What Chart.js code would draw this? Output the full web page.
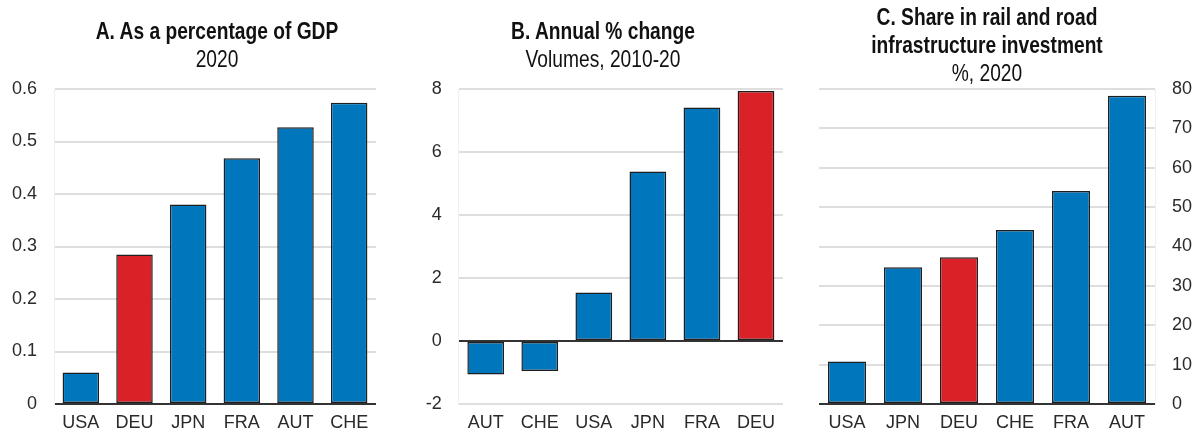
<!DOCTYPE html>
<html>
<head>
<meta charset="utf-8">
<script src="https://cdn.jsdelivr.net/npm/chart.js@4.4.1/dist/chart.umd.min.js"></script>
<style>
  html, body { margin: 0; padding: 0; background: #fff; }
  #wrap { position: relative; width: 1201px; height: 433px; overflow: hidden; }
  .panel { position: absolute; top: 0; }
  /* condensed headings: regular sans squeezed horizontally */
  .ttl {
    position: absolute; text-align: center; white-space: nowrap; color: #111;
    font-family: 'Liberation Sans', Arial, sans-serif;
    font-size: 24px; line-height: 28px;
    transform: scaleX(0.8); transform-origin: 50% 0;
  }
  .ttl b { font-weight: bold; }
</style>
</head>
<body>
<div id="wrap">
  <div class="panel" style="left:0;width:392px;height:433px"><canvas id="chart-a" width="392" height="433"></canvas></div>
  <div class="panel" style="left:400px;width:400px;height:433px"><canvas id="chart-b" width="400" height="433"></canvas></div>
  <div class="panel" style="left:800px;width:401px;height:433px"><canvas id="chart-c" width="401" height="433"></canvas></div>

  <div class="ttl" style="left:17px;width:400px;top:17px"><b>A. As a percentage of GDP</b><br>2020</div>
  <div class="ttl" style="left:403px;width:400px;top:17px"><b>B. Annual % change</b><br>Volumes, 2010-20</div>
  <div class="ttl" style="left:787px;width:400px;top:3px"><b>C. Share in rail and road<br>infrastructure investment</b><br>%, 2020</div>
</div>

<script>
/* ── Data ─────────────────────────────────────────────────────────────── */
const gdpCountries = ['USA', 'DEU', 'JPN', 'FRA', 'AUT', 'CHE'];
const gdpShare     = [0.06, 0.285, 0.38, 0.468, 0.527, 0.574];

const growthCountries = ['AUT', 'CHE', 'USA', 'JPN', 'FRA', 'DEU'];
const growthRate      = [-1.06, -0.95, 1.54, 5.38, 7.41, 7.94];

const railCountries = ['USA', 'JPN', 'DEU', 'CHE', 'FRA', 'AUT'];
const railShare     = [10.8, 34.7, 37.3, 44.2, 54.1, 78.3];

/* ── Shared style ─────────────────────────────────────────────────────── */
const BLUE = '#0077bd';
const RED  = '#da2128';
const tickFont = { family: "'Liberation Sans', Arial, sans-serif", size: 18 };

function barColors(labels) {
  return labels.map(c => c === 'DEU' ? RED : BLUE);
}

function makePanel(id, labels, values, y) {
  const ctx = document.getElementById(id).getContext('2d');
  return new Chart(ctx, {
    type: 'bar',
    data: {
      labels: labels,
      datasets: [{
        data: values,
        backgroundColor: barColors(labels),
        borderColor: '#1e1e1e',
        borderWidth: 1.5,
        borderSkipped: false,
        categoryPercentage: 1,
        barPercentage: 0.68,
      }],
    },
    options: {
      responsive: false,
      animation: false,
      layout: { padding: { top: 89, left: y.padLeft, right: y.padRight, bottom: 0 } },
      plugins: { legend: { display: false }, tooltip: { enabled: false } },
      scales: {
        x: {
          grid: { display: false },
          border: { display: false },
          ticks: { color: '#2a2a2a', font: tickFont, padding: 0, maxRotation: 0 },
          afterFit: s => { s.height = 29; },
        },
        y: {
          position: y.position,
          min: y.min, max: y.max,
          border: { display: true, color: '#f0f0f0', width: 1 },
          grid: {
            drawTicks: false,
            color: c => c.tick.value === 0 ? '#333333' : '#dedede',
            lineWidth: 2,
          },
          ticks: {
            stepSize: y.step,
            color: '#2a2a2a',
            font: tickFont,
            padding: 17,
            callback: y.fmt,
          },
          afterFit: s => { s.width = y.width; },
        },
      },
    },
  });
}

/* ── Panels ───────────────────────────────────────────────────────────── */
makePanel('chart-a', gdpCountries, gdpShare, {
  position: 'left', min: 0, max: 0.6, step: 0.1, width: 54, padLeft: 0, padRight: 16,
  fmt: v => v === 0 ? '0' : v.toFixed(1),
});

makePanel('chart-b', growthCountries, growthRate, {
  position: 'left', min: -2, max: 8, step: 2, width: 58.7, padLeft: 0, padRight: 17,
  fmt: v => String(v),
});

makePanel('chart-c', railCountries, railShare, {
  position: 'right', min: 0, max: 80, step: 10, width: 46, padLeft: 19, padRight: 0,
  fmt: v => String(v),
});
</script>
</body>
</html>
